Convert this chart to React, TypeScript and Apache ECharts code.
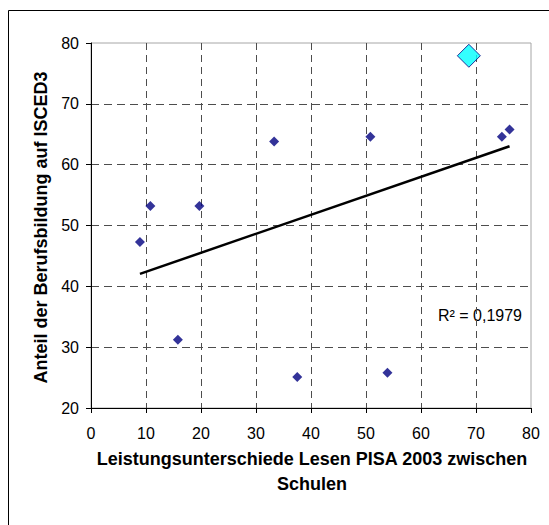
import React, { useEffect, useRef } from "react";
import * as echarts from "echarts";

// Data
const countryX = [8.9, 10.8, 15.8, 19.7, 33.3, 37.5, 50.8, 53.9, 74.7, 76.1];
const countryY = [47.3, 53.2, 31.2, 53.2, 63.8, 25.1, 64.6, 25.8, 64.6, 65.8];
const highlightX = [68.7];
const highlightY = [77.9];
const xTicks = [0, 10, 20, 30, 40, 50, 60, 70, 80];
const yTicks = [20, 30, 40, 50, 60, 70, 80];
const xTitle = "Leistungsunterschiede Lesen PISA 2003 zwischen\nSchulen";
const yTitle = "Anteil der Berufsbildung auf ISCED3";
const r2Label = "R² = 0,1979";

const FONT = "'Liberation Sans', Arial, sans-serif";

function regression(xs: number[], ys: number[]) {
  const n = xs.length;
  const mx = xs.reduce((a, b) => a + b, 0) / n;
  const my = ys.reduce((a, b) => a + b, 0) / n;
  let sxy = 0;
  let sxx = 0;
  for (let i = 0; i < n; i++) {
    sxy += (xs[i] - mx) * (ys[i] - my);
    sxx += (xs[i] - mx) * (xs[i] - mx);
  }
  const slope = sxy / sxx;
  const intercept = my - slope * mx;
  return { slope, intercept };
}

export default function App() {
  const ref = useRef<HTMLDivElement>(null);

  useEffect(() => {
    if (!ref.current) return;
    const chart = echarts.init(ref.current, null, { renderer: "svg" });

    const allX = countryX.concat(highlightX);
    const allY = countryY.concat(highlightY);
    const { slope, intercept } = regression(allX, allY);
    const minX = Math.min(...allX);
    const maxX = Math.max(...allX);
    const trend = [
      [minX, intercept + slope * minX],
      [maxX, intercept + slope * maxX],
    ];

    chart.setOption({
      animation: false,
      backgroundColor: "#ffffff",
      grid: {
        left: 91,
        right: 18,
        top: 43,
        bottom: 117,
        show: true,
        borderColor: "#a6a6a6",
        borderWidth: 1,
        backgroundColor: "transparent",
      },
      xAxis: {
        type: "value",
        min: xTicks[0],
        max: xTicks[xTicks.length - 1],
        interval: 10,
        axisLine: { show: true, onZero: false, lineStyle: { color: "#000", width: 1 } },
        axisTick: { show: true, length: 5, lineStyle: { color: "#000" } },
        axisLabel: { color: "#000", fontSize: 16, fontFamily: FONT, margin: 17 },
        splitLine: {
          show: true,
          showMinLine: false,
          showMaxLine: false,
          lineStyle: { color: "#4d4d4d", type: [7, 5], width: 1 },
        },
      },
      yAxis: {
        type: "value",
        min: yTicks[0],
        max: yTicks[yTicks.length - 1],
        interval: 10,
        axisLine: { show: true, onZero: false, lineStyle: { color: "#000", width: 1 } },
        axisTick: { show: true, length: 5, lineStyle: { color: "#000" } },
        axisLabel: { color: "#000", fontSize: 16, fontFamily: FONT, margin: 12 },
        splitLine: {
          show: true,
          showMinLine: false,
          showMaxLine: false,
          lineStyle: { color: "#4d4d4d", type: [8, 5], width: 1 },
        },
      },
      series: [
        {
          type: "line",
          data: trend,
          symbol: "none",
          lineStyle: { color: "#000", width: 2.5 },
          silent: true,
          z: 3,
        },
        {
          type: "scatter",
          data: countryX.map((x, i) => [x, countryY[i]]),
          symbol: "diamond",
          symbolSize: 10,
          itemStyle: { color: "#000080" },
          z: 4,
        },
        {
          type: "scatter",
          data: highlightX.map((x, i) => [x, highlightY[i]]),
          symbol: "diamond",
          symbolSize: 23,
          itemStyle: { color: "#00ffff", borderColor: "#000080", borderWidth: 1 },
          z: 5,
        },
      ],
      graphic: [
        {
          type: "rect",
          shape: { x: 8.5, y: 10.5, width: 600, height: 600 },
          style: { fill: "none", stroke: "#000", lineWidth: 1 },
          silent: true,
          z: -1,
        },
        {
          type: "text",
          x: 40.5,
          y: 227.5,
          rotation: Math.PI / 2,
          style: {
            text: yTitle,
            fill: "#000",
            font: `bold 18px ${FONT}`,
            align: "center",
            verticalAlign: "middle",
          },
        },
        {
          type: "text",
          x: 312,
          y: 471,
          style: {
            text: xTitle,
            fill: "#000",
            font: `bold 18px ${FONT}`,
            align: "center",
            verticalAlign: "middle",
            lineHeight: 25,
          },
        },
        {
          type: "text",
          x: 522,
          y: 315,
          style: {
            text: r2Label,
            fill: "#000",
            font: `16px ${FONT}`,
            align: "right",
            verticalAlign: "middle",
          },
        },
      ],
    });

    return () => chart.dispose();
  }, []);

  return (
    <div
      ref={ref}
      style={{ position: "fixed", left: 0, top: 0, width: 549, height: 525 }}
    />
  );
}
